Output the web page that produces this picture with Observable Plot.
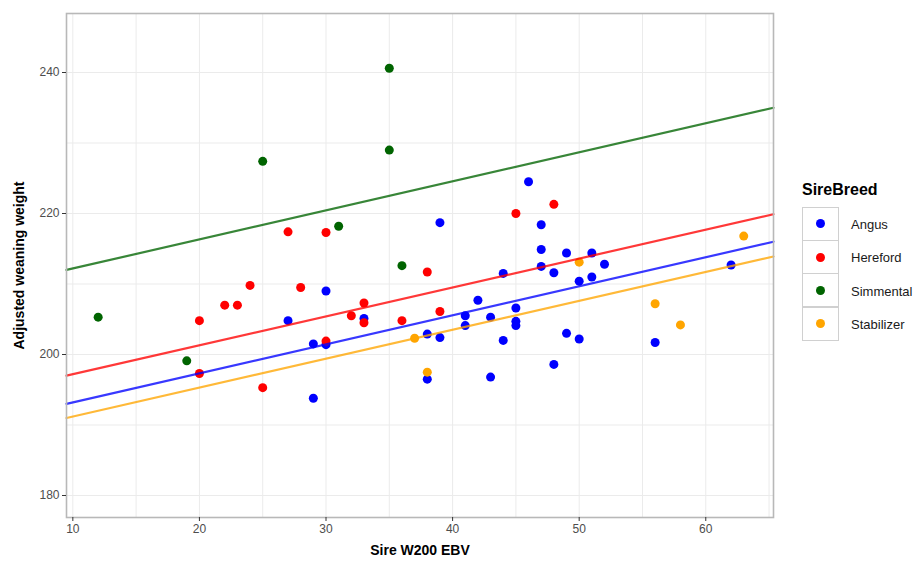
<!DOCTYPE html>
<html>
<head>
<meta charset="utf-8">
<script src="https://cdn.jsdelivr.net/npm/d3@7"></script>
<script src="https://cdn.jsdelivr.net/npm/@observablehq/plot@0.6"></script>
<style>
  body { margin: 0; background: #fff; font-family: "Liberation Sans", Arial, sans-serif; }
  #wrap { position: relative; width: 923px; height: 561px; }
  #chart { position: absolute; left: 0; top: 0; }
  #chart [aria-label="x-axis label"] text, #chart [aria-label="y-axis label"] text,
  #chart g[aria-label="x-axis label"], #chart g[aria-label="y-axis label"] {
    font-weight: bold; font-size: 14px; fill: #000;
  }
  #legend { position: absolute; left: 802px; top: 181px; }
  #legend .title { font-weight: bold; font-size: 16px; color: #000; margin-bottom: 9px; }
  #legend .row { display: flex; align-items: center; height: 33.3px; }
  #legend .key { width: 35px; height: 32px; border: 1.5px solid #d0d0d0; margin-top: -1.5px; display: flex; align-items: center; justify-content: center; background: #fff; box-sizing: content-box; }
  #legend .dot { width: 9px; height: 9px; border-radius: 50%; }
  #legend .lab { font-size: 13px; color: #1a1a1a; margin-left: 12px; }
</style>
</head>
<body>
<div id="wrap"><div id="chart"></div><div id="legend"></div></div>
<script>
const breeds = ["Angus", "Hereford", "Simmental", "Stabilizer"];
const pointColors = ["#0000ff", "#ff0000", "#006400", "#ffa500"];

const angusEBV = [27, 29, 29, 30, 30, 33, 38, 38, 39, 39, 41, 41, 42, 43, 43, 44, 44, 45, 45, 45, 46, 47, 47, 47, 48, 48, 49, 49, 50, 50, 51, 51, 52, 56, 62];
const angusWeight = [204.8, 201.5, 193.8, 209.0, 201.4, 205.1, 202.9, 196.5, 218.7, 202.4, 205.5, 204.1, 207.7, 205.3, 196.8, 211.5, 202.0, 206.6, 204.7, 204.1, 224.5, 218.4, 214.9, 212.5, 211.6, 198.6, 214.4, 203.0, 210.4, 202.2, 214.4, 211.0, 212.8, 201.7, 212.7];

const herefordEBV = [20, 20, 22, 23, 24, 25, 27, 28, 30, 30, 32, 33, 33, 36, 38, 39, 45, 48];
const herefordWeight = [204.8, 197.3, 207.0, 207.0, 209.8, 195.3, 217.4, 209.5, 217.3, 201.9, 205.5, 207.3, 204.5, 204.8, 211.7, 206.1, 220.0, 221.3];

const simmentalEBV = [12, 19, 25, 31, 35, 35, 36];
const simmentalWeight = [205.3, 199.1, 227.4, 218.2, 240.6, 229.0, 212.6];

const stabilizerEBV = [37, 38, 50, 56, 58, 63];
const stabilizerWeight = [202.3, 197.5, 213.1, 207.2, 204.2, 216.8];

// fitted parallel lines: value at left and right edge of the panel
const fitX = [9.5, 65.35];
const fitLeft = [193.0, 197.0, 212.0, 191.0];
const fitRight = [216.0, 219.9, 235.0, 213.9];

const xTicks = [10, 20, 30, 40, 50, 60];
const yTicks = [180, 200, 220, 240];
const xGrid = [10, 15, 20, 25, 30, 35, 40, 45, 50, 55, 60, 65];
const yGrid = [180, 190, 200, 210, 220, 230, 240];

const groups = [
  [angusEBV, angusWeight],
  [herefordEBV, herefordWeight],
  [simmentalEBV, simmentalWeight],
  [stabilizerEBV, stabilizerWeight]
];
const points = groups.flatMap(([xs, ys], i) => xs.map((x, j) => ({breed: breeds[i], ebv: x, weight: ys[j]})));
const fits = breeds.flatMap((b, i) => [
  {breed: b, ebv: fitX[0], weight: fitLeft[i]},
  {breed: b, ebv: fitX[1], weight: fitRight[i]}
]);

const chart = Plot.plot({
  width: 790,
  height: 561,
  marginLeft: 66,
  marginRight: 17,
  marginTop: 13,
  marginBottom: 44,
  style: {fontFamily: "'Liberation Sans', Arial, sans-serif", background: "#fff"},
  x: {domain: [9.5, 65.35]},
  y: {domain: [176.88, 248.37]},
  color: {domain: breeds, range: pointColors},
  marks: [
    Plot.gridX(xGrid, {stroke: "#ebebeb", strokeOpacity: 1, strokeWidth: 1}),
    Plot.gridY(yGrid, {stroke: "#ebebeb", strokeOpacity: 1, strokeWidth: 1}),
    Plot.dot(points, {x: "ebv", y: "weight", fill: "breed", r: 4.5}),
    Plot.line(fits, {x: "ebv", y: "weight", z: "breed", stroke: "breed", strokeWidth: 2.2, strokeOpacity: 0.78}),
    Plot.frame({stroke: "#b8b8b8", strokeWidth: 1.6}),
    Plot.axisX({ticks: xTicks, tickSize: 4, tickPadding: 3, fontSize: 12, fill: "#4d4d4d", stroke: "#333",
      label: "Sire W200 EBV", labelAnchor: "center", labelArrow: "none", labelOffset: 37}),
    Plot.axisY({ticks: yTicks, tickSize: 4, tickPadding: 3, fontSize: 12, fill: "#4d4d4d", stroke: "#333",
      label: "Adjusted weaning weight", labelAnchor: "center", labelArrow: "none", labelOffset: 52})
  ]
});
document.getElementById("chart").appendChild(chart);

const legend = document.getElementById("legend");
const t = document.createElement("div");
t.className = "title";
t.textContent = "SireBreed";
legend.appendChild(t);
breeds.forEach((b, i) => {
  const row = document.createElement("div");
  row.className = "row";
  const key = document.createElement("div");
  key.className = "key";
  const dot = document.createElement("div");
  dot.className = "dot";
  dot.style.background = pointColors[i];
  key.appendChild(dot);
  const lab = document.createElement("div");
  lab.className = "lab";
  lab.textContent = b;
  row.appendChild(key);
  row.appendChild(lab);
  legend.appendChild(row);
});
</script>
</body>
</html>
